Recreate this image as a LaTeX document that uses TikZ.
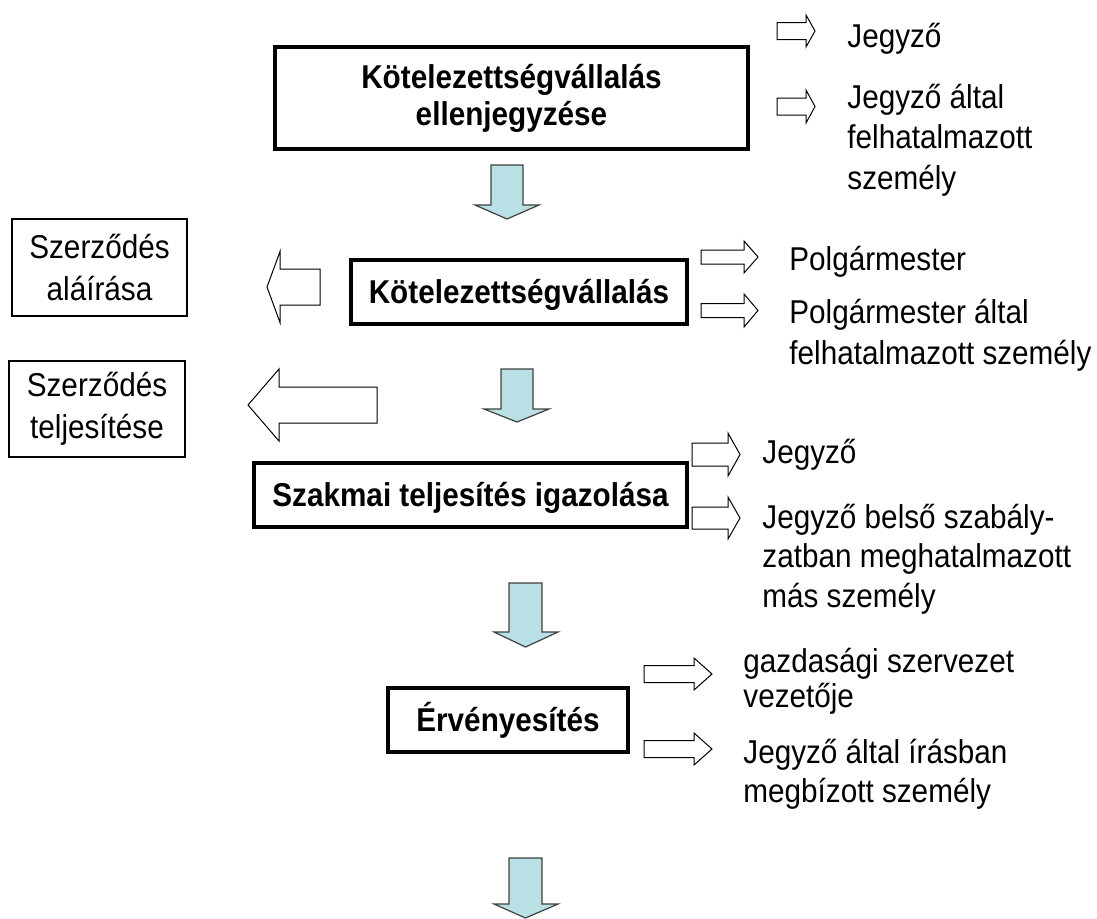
\documentclass[tikz,border=0pt]{standalone}
\usepackage{fontspec}
\setmainfont{Liberation Sans}[FakeStretch=0.9]
\newlength\pxu
\setlength\pxu{0.5pt}
\definecolor{arrowblue}{RGB}{185,224,228}
\tikzset{
  mainbox/.style={draw, line width=2pt, inner sep=0pt, align=center,
    font=\bfseries\fontsize{16.5}{18.5}\selectfont},
  singleline/.style={text height=11.8pt, text depth=0pt},
  sidebox/.style={draw, line width=0.6pt, inner sep=0pt, align=center,
    font=\fontsize{16.5}{21}\selectfont},
  sidetext/.style={anchor=base west, inner sep=0pt, align=left},
  hollow/.style={draw, line width=0.5pt, fill=white, line join=miter},
  downarr/.style={draw=black!75, line width=0.6pt, fill=arrowblue},
}
% block arrow pointing left or right: tail x, head-base x, tip x, centre y, shaft half-height, head half-height
\newcommand\BlockArrH[6]{%
  \draw[hollow] (#1,#4-#5) -- (#2,#4-#5) -- (#2,#4-#6) -- (#3,#4) -- (#2,#4+#6) -- (#2,#4+#5) -- (#1,#4+#5) -- cycle;}
% block arrow pointing down: shaft left x, shaft right x, top y, head-base y, head left x, head right x, tip y
\newcommand\BlockArrD[7]{%
  \draw[downarr] (#1,#3) -- (#2,#3) -- (#2,#4) -- (#6,#4) -- ({(#1+#2)/2},#7) -- (#5,#4) -- (#1,#4) -- cycle;}
\begin{document}
\begin{tikzpicture}[x=0.5pt, y=-0.5pt]
\useasboundingbox (0,0) rectangle (1097,918);

% main boxes
\node[mainbox, minimum width=473\pxu, minimum height=102\pxu] (b1) at (511.5,98) {Kötelezettségvállalás\\ellenjegyzése};
\node[mainbox, singleline, minimum width=336\pxu, minimum height=64\pxu] (b2) at (519,292) {Kötelezettségvállalás};
\node[mainbox, singleline, minimum width=433\pxu, minimum height=64\pxu] (b3) at (470.5,495) {Szakmai teljesítés igazolása};
\node[mainbox, singleline, minimum width=240\pxu, minimum height=64\pxu] (b4) at (508,720) {Érvényesítés};

% left boxes
\node[sidebox, minimum width=175\pxu, minimum height=97\pxu] (l1) at (99.5,267.5) {Szerződés\\aláírása};
\node[sidebox, minimum width=176\pxu, minimum height=96\pxu] (l2) at (97,409) {Szerződés\\teljesítése};

% down arrows
\BlockArrD{491}{523}{165}{205}{475}{539}{219}
\BlockArrD{501}{533}{369}{409}{484}{549}{422}
\BlockArrD{509}{542}{583}{632}{494}{558}{647}
\BlockArrD{509}{542}{858}{904}{494}{558}{918}

% left arrows
\BlockArrH{320}{280}{267}{287}{18}{35.5}
\BlockArrH{377}{279}{248}{405}{18}{36}

% right arrows
\BlockArrH{777}{806}{815}{31}{8.5}{16}
\BlockArrH{777}{806}{815}{106.5}{8.5}{16.5}
\BlockArrH{701}{744}{758}{257}{7}{16}
\BlockArrH{701}{744}{758}{310.5}{7}{16.5}
\BlockArrH{692}{728}{740}{454.5}{11.5}{21.5}
\BlockArrH{692}{728}{740}{518}{11}{21}
\BlockArrH{644}{694}{712}{674}{8.5}{16}
\BlockArrH{644}{694}{712}{749}{8.5}{16}

% side texts (multi-line nodes are anchored at the baseline of their last line)
\node[sidetext, font=\fontsize{16.5}{19.5}\selectfont] (t1) at (847,47) {Jegyző};
\node[sidetext, font=\fontsize{16.5}{20.25}\selectfont] (t2) at (847,189) {Jegyző által\\felhatalmazott\\személy};
\node[sidetext, font=\fontsize{16.5}{20}\selectfont] (t3) at (789,270) {Polgármester};
\node[sidetext, font=\fontsize{16.5}{20.5}\selectfont] (t4) at (789,364) {Polgármester által\\felhatalmazott személy};
\node[sidetext, font=\fontsize{16.5}{19.5}\selectfont] (t5) at (762,463) {Jegyző};
\node[sidetext, font=\fontsize{16.5}{19.75}\selectfont] (t6) at (762,607) {Jegyző belső szabály-\\zatban meghatalmazott\\más személy};
\node[sidetext, font=\fontsize{16.5}{17.5}\selectfont] (t7) at (743,707) {gazdasági szervezet\\vezetője};
\node[sidetext, font=\fontsize{16.5}{19.5}\selectfont] (t8) at (743,802) {Jegyző által írásban\\megbízott személy};
\end{tikzpicture}
\end{document}
